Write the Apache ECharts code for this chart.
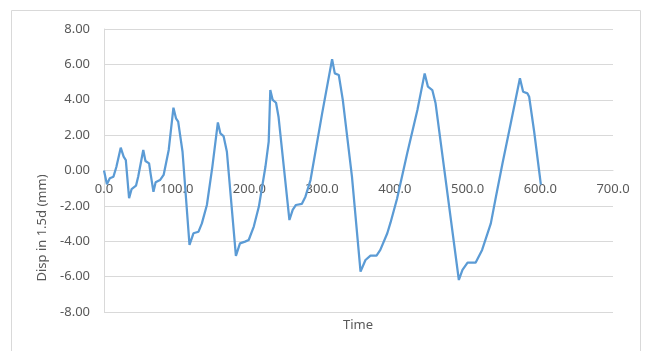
<!DOCTYPE html>
<html>
<head>
<meta charset="utf-8">
<script src="https://cdn.jsdelivr.net/npm/echarts@6/dist/echarts.min.js"></script>
<style>html,body{margin:0;padding:0;background:#fff;}#c{width:649px;height:351px;}</style>
</head>
<body>
<div id="c"></div>
<script>
var time = [0,4,8,13,17,23,27,30,34.5,38,44,47,54,57,62,64,68,71,77,82,89,95.5,99,102,108,117.6,123,130,134.6,141.5,149,156.6,160,164.4,169,181.4,187,194,199,206,213,222,226.5,228.7,232,236.6,240,255,259.5,264,272,277,284,300,313.7,317.4,322.9,328.4,341,352.8,359.6,366.5,374.8,380,389.6,394,403,417,431,441,445.5,451.5,456,488,493,500,511,520,532,539,548,559.4,572,576.4,582.4,584.7,591.6,600.8];
var disp = [0,-0.78,-0.44,-0.35,0.2,1.29,0.78,0.59,-1.57,-1.05,-0.86,-0.35,1.16,0.54,0.4,-0.16,-1.2,-0.67,-0.54,-0.25,1.16,3.55,2.95,2.76,1.06,-4.21,-3.55,-3.46,-2.99,-1.95,0.21,2.72,2.1,1.95,1.06,-4.83,-4.12,-4.02,-3.93,-3.17,-2.04,0.21,1.63,4.55,3.99,3.83,3.04,-2.8,-2.23,-1.95,-1.89,-1.48,-0.54,3.23,6.29,5.49,5.4,3.99,-0.35,-5.72,-5.06,-4.81,-4.81,-4.49,-3.55,-2.95,-1.6,0.97,3.42,5.49,4.74,4.55,3.8,-6.19,-5.62,-5.21,-5.21,-4.49,-2.99,-1.48,0.4,2.67,5.21,4.45,4.36,4.17,2.19,-0.8];
var xTicks = {min: 0, max: 700, interval: 100};
var yTicks = {min: -8, max: 8, interval: 2};
var xTitle = 'Time';
var yTitle = 'Disp in 1.5d (mm)';

var pts = time.map(function(t, i){ return [t, disp[i]]; });
var font = '"Noto Sans", "Liberation Sans", sans-serif';
var gridTop = 29, gridBottom = 39, H = 351;
var plotH = H - gridTop - gridBottom;
var zeroOffset = -plotH * (0 - yTicks.min) / (yTicks.max - yTicks.min);
var chart = echarts.init(document.getElementById('c'), null, {renderer: 'canvas'});
chart.setOption({
  animation: false,
  grid: {left: 104, right: 36, top: gridTop, bottom: gridBottom, containLabel: false},
  xAxis: {
    type: 'value', min: xTicks.min, max: xTicks.max, interval: xTicks.interval,
    position: 'bottom', offset: zeroOffset,
    axisLine: {show: true, onZero: false, lineStyle: {color: '#d9d9d9', width: 1}},
    axisTick: {show: false},
    splitLine: {show: false},
    axisLabel: {color: '#595959', fontSize: 13, fontFamily: font, margin: 12,
      formatter: function(v){ return v.toFixed(1); }}
  },
  yAxis: {
    type: 'value', min: yTicks.min, max: yTicks.max, interval: yTicks.interval,
    axisLine: {show: true, lineStyle: {color: '#d9d9d9', width: 1}},
    axisTick: {show: false},
    splitLine: {show: true, lineStyle: {color: '#d9d9d9', width: 1}},
    axisLabel: {color: '#595959', fontSize: 13, fontFamily: font, margin: 14,
      formatter: function(v){ return v.toFixed(2); }}
  },
  graphic: [
    {type: 'rect', shape: {x: 11.5, y: 10.5, width: 629, height: 400}, style: {fill: 'none', stroke: '#d9d9d9', lineWidth: 1}, silent: true},
    {type: 'text', x: 358, y: 325, style: {text: xTitle, fill: '#595959', font: '13px ' + font, align: 'center', verticalAlign: 'middle'}},
    {type: 'text', x: 42, y: 228, rotation: Math.PI / 2, style: {text: yTitle, fill: '#595959', font: '13px ' + font, align: 'center', verticalAlign: 'middle'}}
  ],
  series: [{
    type: 'line', data: pts, showSymbol: false, smooth: false,
    lineStyle: {color: '#5B9BD5', width: 2.25}, itemStyle: {color: '#5B9BD5'}
  }]
});
</script>
</body>
</html>
